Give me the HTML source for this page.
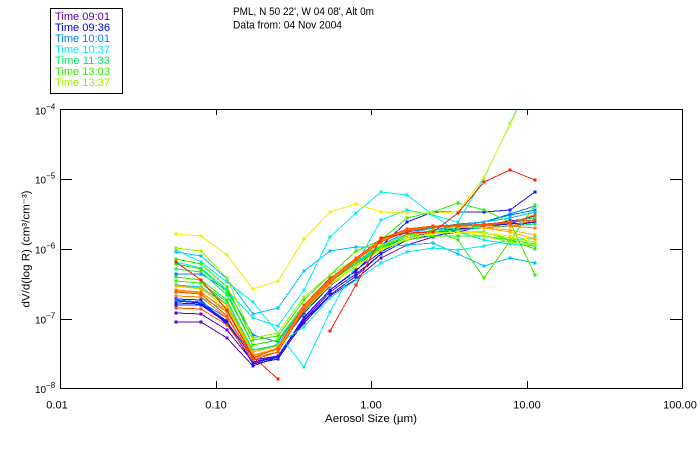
<!DOCTYPE html>
<html>
<head>
<meta charset="utf-8">
<style>
html,body{margin:0;padding:0;background:#fff;}
svg{display:block;}
text{font-family:"Liberation Sans",sans-serif;}
polyline{fill:none;stroke-width:1;}
</style>
</head>
<body>
<svg width="700" height="450" viewBox="0 0 700 450" xmlns="http://www.w3.org/2000/svg">
<defs>
<clipPath id="plot"><rect x="60" y="109" width="623" height="280"/></clipPath>
<marker id="mP" markerUnits="userSpaceOnUse" markerWidth="4" markerHeight="4" refX="1.5" refY="1.5" overflow="visible"><rect x="0" y="0" width="3" height="3" fill="#6000c0"/></marker>
<marker id="mB" markerUnits="userSpaceOnUse" markerWidth="4" markerHeight="4" refX="1.5" refY="1.5" overflow="visible"><rect x="0" y="0" width="3" height="3" fill="#1818ff"/></marker>
<marker id="mA" markerUnits="userSpaceOnUse" markerWidth="4" markerHeight="4" refX="1.5" refY="1.5" overflow="visible"><rect x="0" y="0" width="3" height="3" fill="#0080ff"/></marker>
<marker id="mS" markerUnits="userSpaceOnUse" markerWidth="4" markerHeight="4" refX="1.5" refY="1.5" overflow="visible"><rect x="0" y="0" width="3" height="3" fill="#00c0ff"/></marker>
<marker id="mC" markerUnits="userSpaceOnUse" markerWidth="4" markerHeight="4" refX="1.5" refY="1.5" overflow="visible"><rect x="0" y="0" width="3" height="3" fill="#00eeee"/></marker>
<marker id="mT" markerUnits="userSpaceOnUse" markerWidth="4" markerHeight="4" refX="1.5" refY="1.5" overflow="visible"><rect x="0" y="0" width="3" height="3" fill="#00f070"/></marker>
<marker id="mG" markerUnits="userSpaceOnUse" markerWidth="4" markerHeight="4" refX="1.5" refY="1.5" overflow="visible"><rect x="0" y="0" width="3" height="3" fill="#30f000"/></marker>
<marker id="mYG" markerUnits="userSpaceOnUse" markerWidth="4" markerHeight="4" refX="1.5" refY="1.5" overflow="visible"><rect x="0" y="0" width="3" height="3" fill="#a0f000"/></marker>
<marker id="mY" markerUnits="userSpaceOnUse" markerWidth="4" markerHeight="4" refX="1.5" refY="1.5" overflow="visible"><rect x="0" y="0" width="3" height="3" fill="#f0f000"/></marker>
<marker id="mO" markerUnits="userSpaceOnUse" markerWidth="4" markerHeight="4" refX="1.5" refY="1.5" overflow="visible"><rect x="0" y="0" width="3" height="3" fill="#ffb000"/></marker>
<marker id="mD" markerUnits="userSpaceOnUse" markerWidth="4" markerHeight="4" refX="1.5" refY="1.5" overflow="visible"><rect x="0" y="0" width="3" height="3" fill="#ff8000"/></marker>
<marker id="mRO" markerUnits="userSpaceOnUse" markerWidth="4" markerHeight="4" refX="1.5" refY="1.5" overflow="visible"><rect x="0" y="0" width="3" height="3" fill="#ff5000"/></marker>
<marker id="mR" markerUnits="userSpaceOnUse" markerWidth="4" markerHeight="4" refX="1.5" refY="1.5" overflow="visible"><rect x="0" y="0" width="3" height="3" fill="#ff2000"/></marker>
</defs>

<!-- Legend -->
<rect x="50.5" y="8.5" width="72" height="85" fill="none" stroke="#000" stroke-width="1"/>
<text x="55" y="20" font-size="11" fill="#6000b0" textLength="55" lengthAdjust="spacingAndGlyphs">Time 09:01</text>
<text x="55" y="31" font-size="11" fill="#0000f0" textLength="55" lengthAdjust="spacingAndGlyphs">Time 09:36</text>
<text x="55" y="42" font-size="11" fill="#0080ff" textLength="55" lengthAdjust="spacingAndGlyphs">Time 10:01</text>
<text x="55" y="53" font-size="11" fill="#00f0f0" textLength="55" lengthAdjust="spacingAndGlyphs">Time 10:37</text>
<text x="55" y="64" font-size="11" fill="#00f060" textLength="55" lengthAdjust="spacingAndGlyphs">Time 11:33</text>
<text x="55" y="75" font-size="11" fill="#30f000" textLength="55" lengthAdjust="spacingAndGlyphs">Time 13:03</text>
<text x="55" y="86" font-size="11" fill="#a0f000" textLength="55" lengthAdjust="spacingAndGlyphs">Time 13:37</text>

<!-- Title -->
<text x="233" y="15" font-size="11" fill="#000" textLength="141" lengthAdjust="spacingAndGlyphs">PML, N 50 22', W 04 08', Alt 0m</text>
<text x="233" y="28.5" font-size="11" fill="#000" textLength="109" lengthAdjust="spacingAndGlyphs">Data from: 04 Nov 2004</text>

<!-- Data -->
<g clip-path="url(#plot)" shape-rendering="crispEdges">
<g stroke="#6000c0" marker-start="url(#mP)" marker-mid="url(#mP)" marker-end="url(#mP)">
<polyline points="176,322 201,322 227,338 253,366 278,357 304,323 330,296 356,279 381,258 407,245 433,237 458,230 484,226 510,224 535,222"/>
<polyline points="176,313 201,314 227,330 253,362 278,356 304,320 330,292 356,274 381,254 407,240 433,233 458,229 484,225 510,221 535,218"/>
</g>
<g stroke="#1818ff" marker-start="url(#mB)" marker-mid="url(#mB)" marker-end="url(#mB)">
<polyline points="176,305 201,305 227,323 253,363 278,357 304,317 330,290 356,271 381,246 407,222 433,212 458,212 484,212 510,210 535,192"/>
<polyline points="176,301 201,303 227,321 253,364 278,359 304,321 330,295 356,276 381,254 407,240 433,232 458,228 484,226 510,224 535,215"/>
<polyline points="176,299 201,300 227,325 253,360 278,356 304,318 330,290 356,270 381,252 407,238 433,232 458,230 484,228 510,226 535,222"/>
<polyline points="176,303 201,304 227,322 253,358 278,348 304,313 330,286 356,266 381,248 407,238 433,236 458,232 484,226 510,222 535,216"/>
</g>
<g stroke="#0080ff" marker-start="url(#mA)" marker-mid="url(#mA)" marker-end="url(#mA)">
<polyline points="176,274 201,274 227,290 253,335 278,342 304,305 330,278 356,262 381,245 407,232 433,228 458,224 484,222 510,214 535,206"/>
<polyline points="176,300 201,302 227,318 253,356 278,350 304,310 330,282 356,262 381,247 407,236 433,230 458,226 484,222 510,215 535,210"/>
</g>
<g stroke="#00c0ff" marker-start="url(#mS)" marker-mid="url(#mS)" marker-end="url(#mS)">
<polyline points="176,252 201,256 227,279 253,314 278,308 304,271 330,251 356,247 381,247 407,245 433,243 458,254 484,266 510,258 535,263"/>
<polyline points="176,285 201,287 227,305 253,350 278,345 304,305 330,280 356,263 381,246 407,234 433,228 458,225 484,222 510,218 535,212"/>
</g>
<g stroke="#00eeee" marker-start="url(#mC)" marker-mid="url(#mC)" marker-end="url(#mC)">
<polyline points="176,250 201,262 227,282 253,302 278,333 304,367 330,312 356,265 381,220 407,210 433,215 458,232 484,240 510,244 535,246"/>
<polyline points="176,262 201,268 227,290 253,318 278,326 304,290 330,237 356,213 381,192 407,195 433,215 458,222 484,178 510,124 535,70"/>
<polyline points="176,296 201,297 227,312 253,352 278,344 304,327 330,298 356,280 381,263 407,252 433,248 458,250 484,246 510,240 535,238"/>
</g>
<g stroke="#00f070" marker-start="url(#mT)" marker-mid="url(#mT)" marker-end="url(#mT)">
<polyline points="176,269 201,272 227,295 253,345 278,340 304,305 330,280 356,262 381,246 407,235 433,230 458,228 484,226 510,222 535,218"/>
<polyline points="176,281 201,283 227,302 253,350 278,346 304,308 330,282 356,264 381,248 407,236 433,231 458,230 484,228 510,226 535,224"/>
</g>
<g stroke="#30f000" marker-start="url(#mG)" marker-mid="url(#mG)" marker-end="url(#mG)">
<polyline points="176,259 201,264 227,287 253,340 278,336 304,300 330,275 356,251 381,240 407,218 433,212 458,203 484,210 510,222 535,275"/>
<polyline points="176,264 201,269 227,292 253,345 278,340 304,306 330,282 356,264 381,247 407,235 433,230 458,240 484,278 510,241 535,205"/>
<polyline points="176,277 201,280 227,300 253,352 278,346 304,310 330,284 356,266 381,249 407,238 433,233 458,232 484,232 510,240 535,249"/>
<polyline points="176,281 201,283 227,305 253,355 278,348 304,311 330,285 356,267 381,250 407,240 433,236 458,236 484,236 510,240 535,244"/>
</g>
<g stroke="#a0f000" marker-start="url(#mYG)" marker-mid="url(#mYG)" marker-end="url(#mYG)">
<polyline points="176,248 201,251 227,278 253,338 278,333 304,297 330,275 356,259 381,245 407,236 433,232 458,232 484,236 510,242 535,245"/>
<polyline points="176,286 201,289 227,308 253,352 278,346 304,309 330,284 356,266 381,249 407,238 433,233 458,232 484,233 510,238 535,242"/>
</g>
<g stroke="#f0f000" marker-start="url(#mY)" marker-mid="url(#mY)" marker-end="url(#mY)">
<polyline points="176,234 201,236 227,255 253,289 278,281 304,239 330,212 356,204 381,212 407,213 433,213 458,212 484,177 510,125 535,73"/>
<polyline points="176,290 201,292 227,312 253,356 278,350 304,310 330,285 356,267 381,250 407,239 433,234 458,232 484,233 510,236 535,240"/>
</g>
<g stroke="#ffb000" marker-start="url(#mO)" marker-mid="url(#mO)" marker-end="url(#mO)">
<polyline points="176,286 201,288 227,305 253,352 278,346 304,306 330,280 356,260 381,240 407,230 433,227 458,227 484,228 510,232 535,239"/>
<polyline points="176,291 201,293 227,310 253,355 278,348 304,308 330,282 356,261 381,241 407,231 433,227 458,226 484,228 510,230 535,235"/>
</g>
<g stroke="#ff8000" marker-start="url(#mD)" marker-mid="url(#mD)" marker-end="url(#mD)">
<polyline points="176,290 201,292 227,312 253,356 278,349 304,307 330,280 356,258 381,239 407,229 433,226 458,225 484,226 510,226 535,228"/>
<polyline points="176,296 201,297 227,318 253,358 278,352 304,309 330,281 356,259 381,240 407,230 433,226 458,225 484,226 510,226 535,220"/>
</g>
<g stroke="#ff5000" marker-start="url(#mRO)" marker-mid="url(#mRO)" marker-end="url(#mRO)">
<polyline points="176,292 201,294 227,316 253,358 278,348 304,305 330,279 356,258 381,239 407,229 433,226 458,225 484,225 510,223 535,215"/>
<polyline points="176,308 201,309 227,325 253,360 278,352 304,310 330,283 356,260 381,242 407,231 433,227 458,226 484,224 510,222 535,220"/>
</g>
<g stroke="#ff2000" marker-start="url(#mR)" marker-mid="url(#mR)" marker-end="url(#mR)">
<polyline points="176,262 201,280 227,310 253,357 278,379"/>
<polyline points="330,331 356,285 381,238 407,233 433,232 458,213 484,182 510,170 535,180"/>
</g>
</g>

<!-- Axes frame -->
<rect x="60.5" y="109.5" width="622" height="279" fill="none" stroke="#000" stroke-width="1"/>
<g stroke="#000" stroke-width="1" shape-rendering="crispEdges">
<!-- y ticks left/right -->
<line x1="60" y1="179.5" x2="72" y2="179.5"/>
<line x1="60" y1="249.5" x2="72" y2="249.5"/>
<line x1="60" y1="319.5" x2="72" y2="319.5"/>
<line x1="670" y1="179.5" x2="682" y2="179.5"/>
<line x1="670" y1="249.5" x2="682" y2="249.5"/>
<line x1="670" y1="319.5" x2="682" y2="319.5"/>
<!-- x ticks bottom/top -->
<line x1="216.5" y1="389" x2="216.5" y2="381"/>
<line x1="371.5" y1="389" x2="371.5" y2="381"/>
<line x1="527.5" y1="389" x2="527.5" y2="381"/>
<line x1="216.5" y1="109" x2="216.5" y2="115"/>
<line x1="371.5" y1="109" x2="371.5" y2="115"/>
<line x1="527.5" y1="109" x2="527.5" y2="115"/>
</g>

<!-- Y tick labels -->
<g font-size="10" fill="#000">
<text x="35" y="114.5">10<tspan font-size="8" dy="-5">−4</tspan></text>
<text x="35" y="183.5">10<tspan font-size="8" dy="-5">−5</tspan></text>
<text x="35" y="253.5">10<tspan font-size="8" dy="-5">−6</tspan></text>
<text x="35" y="323.5">10<tspan font-size="8" dy="-5">−7</tspan></text>
<text x="35" y="393">10<tspan font-size="8" dy="-5">−8</tspan></text>
</g>

<!-- X tick labels -->
<g font-size="11" fill="#000" text-anchor="middle">
<text x="57" y="408.5">0.01</text>
<text x="216" y="408.5">0.10</text>
<text x="371" y="408.5">1.00</text>
<text x="527" y="408.5">10.00</text>
<text x="680" y="408.5">100.00</text>
</g>
<text x="371" y="422" font-size="11" fill="#000" text-anchor="middle" textLength="92" lengthAdjust="spacingAndGlyphs">Aerosol Size (µm)</text>

<!-- Y axis title -->
<text transform="translate(29.5,249) rotate(-90)" font-size="11" fill="#000" text-anchor="middle" textLength="117" lengthAdjust="spacingAndGlyphs">dV/d(log R) (cm³/cm⁻³)</text>
</svg>
</body>
</html>
